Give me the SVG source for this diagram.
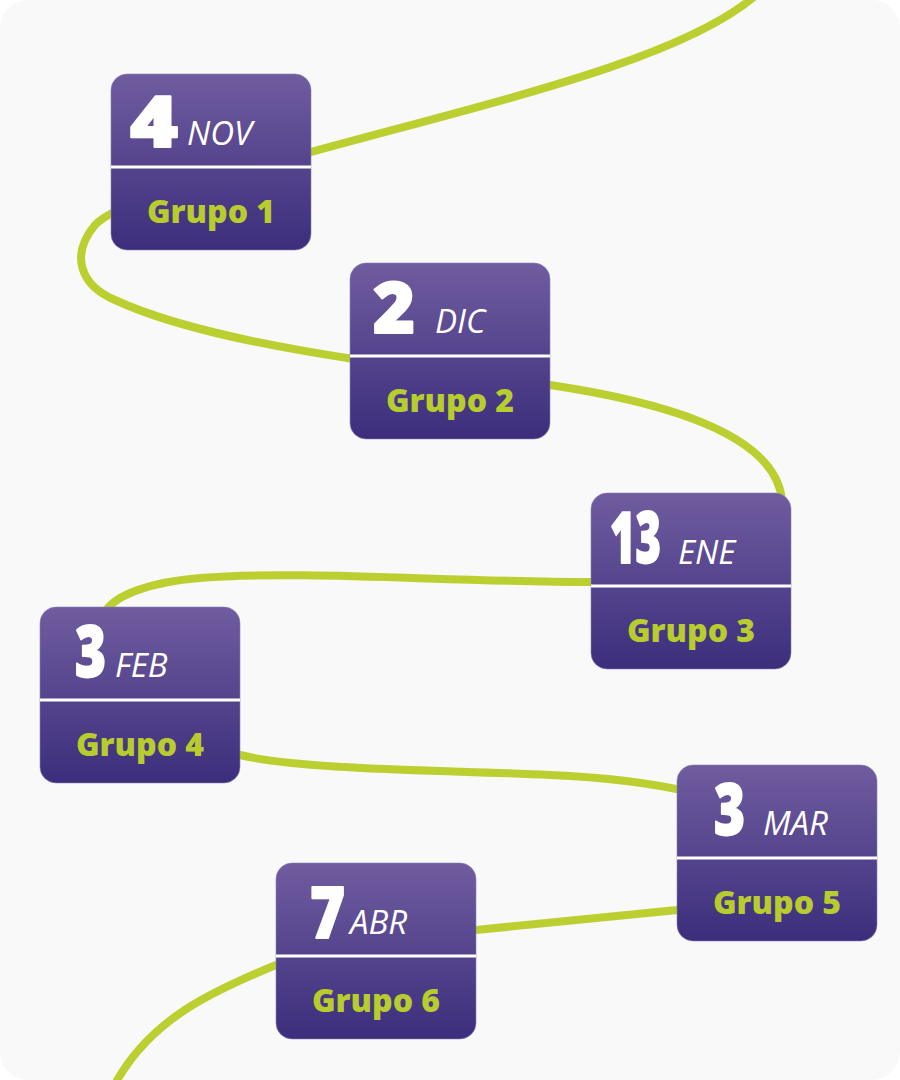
<svg xmlns="http://www.w3.org/2000/svg" width="900" height="1080" viewBox="0 0 900 1080">
<defs>
<linearGradient id="cardGrad" x1="0" y1="0" x2="0" y2="1">
<stop offset="0" stop-color="#705c9f"/>
<stop offset="1" stop-color="#3c2e7c"/>
</linearGradient>
<style>
.card{fill:url(#cardGrad);stroke:#8c7fb8;stroke-width:0.6}
.div{stroke:#ffffff;stroke-width:3}
.num{font-family:"Open Sans","Liberation Sans",sans-serif;font-weight:800;font-size:70px;fill:#ffffff;stroke:#ffffff;stroke-width:2;stroke-linejoin:round}
.mon{font-family:"Open Sans","Liberation Sans",sans-serif;font-style:italic;font-weight:500;font-size:33px;fill:#ffffff}
.grp{font-family:"Open Sans","Liberation Sans",sans-serif;font-weight:800;font-size:32px;fill:#b8cc2e;text-anchor:middle}
.wire{fill:none;stroke:#bccf30;stroke-width:8;stroke-linecap:round}
</style>
</defs>
<rect x="0" y="0" width="900" height="1080" fill="#ffffff"/>
<rect x="0" y="0" width="900" height="1080" rx="28" fill="#f9f9f9"/>
<g id="connectors">
<path class="wire" d="M 755 -4 C 680 60 500 100 300 155 C 200 183 120 200 95 225 C 70 255 80 285 115 300 C 180 330 280 348 360 360 C 420 370 480 378 550 385 C 650 400 775 430 782 500 C 790 560 700 582 591 582 C 450 582 300 570 200 578 C 150 582 115 595 105 612 C 150 700 200 748 240 755 C 300 770 450 770 550 775 C 620 778 660 785 690 792 C 700 840 700 900 677 910 L 476 930 C 400 930 320 945 276 965 C 210 992 150 1020 115 1084"/>
</g>
<g id="node1">
<rect class="card" x="111" y="74" width="200" height="176" rx="16"/>
<line class="div" x1="111" y1="167" x2="311" y2="167"/>
<text class="num" x="130" y="147" textLength="48" lengthAdjust="spacingAndGlyphs">4</text>
<text class="mon" x="187" y="145">NOV</text>
<text class="grp" x="211" y="223">Grupo 1</text>
</g>
<g id="node2">
<rect class="card" x="350" y="263" width="200" height="176" rx="16"/>
<line class="div" x1="350" y1="356" x2="550" y2="356"/>
<text class="num" x="373" y="333" textLength="42" lengthAdjust="spacingAndGlyphs">2</text>
<text class="mon" x="435" y="333">DIC</text>
<text class="grp" x="450" y="412">Grupo 2</text>
</g>
<g id="node3">
<rect class="card" x="591" y="493" width="200" height="176" rx="16"/>
<line class="div" x1="591" y1="586" x2="791" y2="586"/>
<text class="num" transform="translate(610,563) scale(0.62,1)">13</text>
<text class="mon" x="678" y="564">ENE</text>
<text class="grp" x="691" y="642">Grupo 3</text>
</g>
<g id="node4">
<rect class="card" x="40" y="607" width="200" height="176" rx="16"/>
<line class="div" x1="40" y1="700" x2="240" y2="700"/>
<text class="num" x="75" y="677" textLength="31" lengthAdjust="spacingAndGlyphs">3</text>
<text class="mon" x="115" y="677">FEB</text>
<text class="grp" x="140" y="756">Grupo 4</text>
</g>
<g id="node5">
<rect class="card" x="677" y="765" width="200" height="176" rx="16"/>
<line class="div" x1="677" y1="858" x2="877" y2="858"/>
<text class="num" x="714" y="835" textLength="31" lengthAdjust="spacingAndGlyphs">3</text>
<text class="mon" x="763" y="835">MAR</text>
<text class="grp" x="777" y="914">Grupo 5</text>
</g>
<g id="node6">
<rect class="card" x="276" y="863" width="200" height="176" rx="16"/>
<line class="div" x1="276" y1="956" x2="476" y2="956"/>
<text class="num" x="310" y="938" textLength="35" lengthAdjust="spacingAndGlyphs">7</text>
<text class="mon" x="350" y="934">ABR</text>
<text class="grp" x="376" y="1012">Grupo 6</text>
</g>
</svg>
